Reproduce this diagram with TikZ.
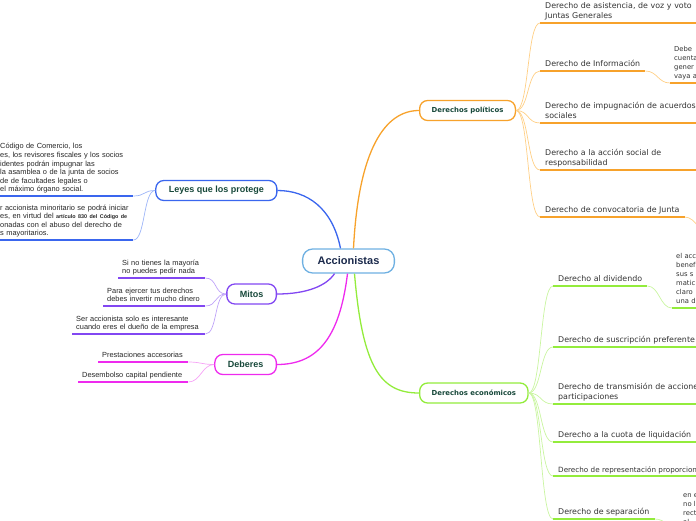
\documentclass[tikz,border=0pt]{standalone}
\usepackage{fontspec}
\setmainfont{Liberation Sans}
\newfontfamily\verd{DejaVu Sans}
\usetikzlibrary{positioning}
\definecolor{orn}{HTML}{F7A22B}
\definecolor{ornlt}{HTML}{FFCF85}
\definecolor{grn}{HTML}{93EC3C}
\definecolor{grnlt}{HTML}{C9F5A0}
\definecolor{blu}{HTML}{3A66EE}
\definecolor{blult}{HTML}{9DB5F8}
\definecolor{pur}{HTML}{8247F2}
\definecolor{purlt}{HTML}{BFA3F8}
\definecolor{mag}{HTML}{EE2AEE}
\definecolor{maglt}{HTML}{F6A2F6}
\definecolor{hubline}{HTML}{6EB0E2}
\definecolor{navy}{HTML}{1B2A4C}
\definecolor{dkgrn}{HTML}{17483A}
\definecolor{leaftx}{HTML}{333333}

\begin{document}
\begin{tikzpicture}[x=1pt,y=-1pt,
      hub/.style={draw=hubline,line width=1.3pt,rounded corners=10pt,fill=white,text=navy,
                  font=\fontsize{11}{13}\selectfont\bfseries,inner xsep=15pt,minimum height=24pt},
      topic/.style={draw=#1,line width=1.3pt,rounded corners=8pt,fill=white,text=dkgrn,minimum height=20pt},
      ltopic/.style={topic=#1,font=\fontsize{9}{11}\selectfont\bfseries,inner xsep=13pt},
      rtopic/.style={topic=#1,font=\verd\fontsize{6.9}{9}\selectfont\bfseries,inner xsep=12pt},
      leaf/.style={align=left,text=leaftx,inner xsep=5pt,inner ysep=1pt,anchor=south west,
                   font=\verd\fontsize{7.9}{10}\selectfont,execute at end node=\strut},
      lleaf/.style={leaf,text=black!85,inner xsep=4pt,inner ysep=1.4pt,font=\fontsize{7.4}{8.6}\selectfont},
      subleaf/.style={leaf,inner xsep=4pt,inner ysep=1.5pt,font=\verd\fontsize{6.8}{9}\selectfont},
      br/.style={draw=#1,line width=1.3pt},
      tw/.style={draw=#1,line width=0.7pt},
      ul/.style={draw=#1,line width=2pt}]
    \useasboundingbox (0,0) rectangle (696,520);
    \clip (0,0) rectangle (696,520);
    \node[hub] (acc) at (348.5,261) {Accionistas};
    \node[rtopic=orn,anchor=west] (pol) at (419,110.5) {Derechos políticos};
    \node[rtopic=grn,anchor=west] (eco) at (419,393) {Derechos económicos};
    \node[ltopic=blu,anchor=east] (ley) at (277.5,190.5) {Leyes que los protege};
    \node[ltopic=pur,anchor=east] (mit) at (277,294) {Mitos};
    \node[ltopic=mag,anchor=east] (deb) at (277,364.5) {Deberes};

    \node[leaf,text width=170pt] (p1) at (540,23) {Derecho de asistencia, de voz y voto\\Juntas Generales};
    \node[leaf] (p2) at (540,71) {Derecho de Información};
    \node[subleaf,text width=40pt] (p2a) at (670,83) {Debe\\cuenta\\gener\\vaya a};
    \node[leaf,text width=170pt] (p3) at (540,123) {Derecho de impugnación de acuerdos\\sociales};
    \node[leaf,text width=170pt] (p4) at (540,170) {Derecho a la acción social de\\responsabilidad};
    \node[leaf] (p5) at (540,217) {Derecho de convocatoria de Junta};
    \coordinate (p5a) at (712,236);

    \node[leaf] (e1) at (553,286) {Derecho al dividendo};
    \node[subleaf,text width=40pt] (e1a) at (672,308) {el acc\\benef\\sus s\\matic\\claro\\una d};
    \node[leaf,text width=160pt] (e2) at (553,347) {Derecho de suscripción preferente};
    \node[leaf,text width=160pt] (e3) at (553,404) {Derecho de transmisión de acciones\\participaciones};
    \node[leaf,text width=160pt] (e4) at (553,442) {Derecho a la cuota de liquidación};
    \node[leaf,text width=160pt,font=\verd\fontsize{7.2}{8.5}\selectfont] (e5) at (553,476) {Derecho de representación proporcional};
    \node[leaf] (e6) at (553,519) {Derecho de separación};
    \node[subleaf,text width=40pt] (e6a) at (679,529) {en e\\no l\\rect\\al};

    \node[lleaf,text width=129pt] (l1) at (-4,196) {Código de Comercio, los\\es, los revisores fiscales y los socios\\identes podrán impugnar las\\la asamblea o de la junta de socios\\de de facultades legales o\\el máximo órgano social.};
    \node[lleaf,text width=129pt] (l2) at (-4,240) {r accionista minoritario se podrá iniciar\\es, en virtud del {\bfseries\fontsize{5.4}{6}\selectfont artículo 830 del Código de}\\onadas con el abuso del derecho de\\s mayoritarios.};
    \node[lleaf,text width=79pt] (m1) at (118,278) {Si no tienes la mayoría\\no puedes pedir nada};
    \node[lleaf,text width=94pt] (m2) at (103,306) {Para ejercer tus derechos\\debes invertir mucho dinero};
    \node[lleaf,text width=125pt] (m3) at (72,334) {Ser accionista solo es interesante\\cuando eres el dueño de la empresa};
    \node[lleaf,text width=82pt] (d1) at (98,362) {Prestaciones accesorias};
    \node[lleaf,text width=102pt] (d2) at (78,382) {Desembolso capital pendiente};

    \draw[br=orn] ([xshift=5pt]acc.north) .. controls +(5,-99) and +(-34,0) .. (pol.west);
    \draw[br=blu] ([xshift=-8pt]acc.north) .. controls +(-8,-40) and +(30,0) .. (ley.east);
    \draw[br=pur] ([xshift=-14pt]acc.south) .. controls +(-8,12) and +(30,0) .. (mit.east);
    \draw[br=mag] ([xshift=-1pt]acc.south) .. controls +(-8,65) and +(40,0) .. (deb.east);
    \draw[br=grn] ([xshift=6pt]acc.south) .. controls +(8,95) and +(-38,0) .. (eco.west);

    \draw[tw=ornlt] (pol.east) .. controls +(13,0) and +(-13,0) .. (p1.south west);
    \draw[tw=ornlt] (pol.east) .. controls +(13,0) and +(-13,0) .. (p2.south west);
    \draw[tw=ornlt] (pol.east) .. controls +(13,0) and +(-13,0) .. (p3.south west);
    \draw[tw=ornlt] (pol.east) .. controls +(13,0) and +(-13,0) .. (p4.south west);
    \draw[tw=ornlt] (pol.east) .. controls +(13,0) and +(-13,0) .. (p5.south west);
    \draw[tw=ornlt] (p2.south east) .. controls +(12,0) and +(-12,0) .. (p2a.south west);
    \draw[tw=ornlt] (p5.south east) .. controls +(12,0) and +(-12,0) .. (p5a);
    \draw[ul=orn] (p1.south west)--(p1.south east); \draw[ul=orn] (p2.south west)--(p2.south east);
    \draw[ul=orn] (p3.south west)--(p3.south east); \draw[ul=orn] (p4.south west)--(p4.south east);
    \draw[ul=orn] (p5.south west)--(p5.south east); \draw[ul=orn] (p2a.south west)--(p2a.south east);

    \draw[tw=grnlt] (eco.east) .. controls +(13,0) and +(-13,0) .. (e1.south west);
    \draw[tw=grnlt] (eco.east) .. controls +(13,0) and +(-13,0) .. (e2.south west);
    \draw[tw=grnlt] (eco.east) .. controls +(13,0) and +(-13,0) .. (e3.south west);
    \draw[tw=grnlt] (eco.east) .. controls +(13,0) and +(-13,0) .. (e4.south west);
    \draw[tw=grnlt] (eco.east) .. controls +(13,0) and +(-13,0) .. (e5.south west);
    \draw[tw=grnlt] (eco.east) .. controls +(13,0) and +(-13,0) .. (e6.south west);
    \draw[tw=grnlt] (e1.south east) .. controls +(12,0) and +(-12,0) .. (e1a.south west);
    \draw[tw=grnlt] (e6.south east) .. controls +(12,0) and +(-12,0) .. (e6a.south west);
    \draw[ul=grn] (e1.south west)--(e1.south east); \draw[ul=grn] (e2.south west)--(e2.south east);
    \draw[ul=grn] (e3.south west)--(e3.south east); \draw[ul=grn] (e4.south west)--(e4.south east);
    \draw[ul=grn] (e5.south west)--(e5.south east); \draw[ul=grn] (e6.south west)--(e6.south east);
    \draw[ul=grn] (e1a.south west)--(e1a.south east); \draw[ul=grn] (e6a.south west)--(e6a.south east);

    \draw[tw=blult] (l1.south east) .. controls +(12,0) and +(-12,0) .. (ley.west);
    \draw[tw=blult] (l2.south east) .. controls +(12,0) and +(-12,0) .. (ley.west);
    \draw[ul=blu] (l1.south west)--(l1.south east); \draw[ul=blu] (l2.south west)--(l2.south east);
    \draw[tw=purlt] (m1.south east) .. controls +(12,0) and +(-12,0) .. (mit.west);
    \draw[tw=purlt] (m2.south east) .. controls +(12,0) and +(-12,0) .. (mit.west);
    \draw[tw=purlt] (m3.south east) .. controls +(12,0) and +(-12,0) .. (mit.west);
    \draw[ul=pur] (m1.south west)--(m1.south east); \draw[ul=pur] (m2.south west)--(m2.south east);
    \draw[ul=pur] (m3.south west)--(m3.south east);
    \draw[tw=maglt] (d1.south east) .. controls +(12,0) and +(-12,0) .. (deb.west);
    \draw[tw=maglt] (d2.south east) .. controls +(12,0) and +(-12,0) .. (deb.west);
    \draw[ul=mag] (d1.south west)--(d1.south east); \draw[ul=mag] (d2.south west)--(d2.south east);
  \end{tikzpicture}
\end{document}
